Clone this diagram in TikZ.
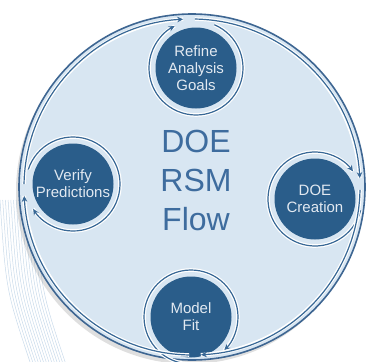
\documentclass[tikz,border=0pt]{standalone}
\usepackage{fontspec}
\setmainfont{Liberation Sans}
\usetikzlibrary{arrows.meta,shadows}
\definecolor{bigfill}{RGB}{216,230,242}
\definecolor{rimblue}{RGB}{62,102,146}
\definecolor{stageblue}{RGB}{42,93,138}
\definecolor{stagetext}{RGB}{226,233,241}
\definecolor{titleblue}{RGB}{62,108,158}
\definecolor{flowblue}{RGB}{56,104,150}
\definecolor{hatchblue}{RGB}{200,218,234}
\tikzset{
  stage/.style={circle,fill=stageblue,minimum size=81pt,inner sep=0pt,align=center,
    text=stagetext,font=\fontsize{15}{17}\selectfont},
  flow/.style={draw=flowblue,line width=1.2pt,-{Stealth[length=6pt,width=5.5pt]},
    preaction={draw=white,line width=3.6pt,-}},
  hatch/.style={draw=hatchblue,line width=0.5pt},
}
\begin{document}
\begin{tikzpicture}[x=1pt,y=-1pt]
\useasboundingbox (0,0) rectangle (373,362);
\coordinate (c) at (192,187);
\foreach \i in {0,...,13}
  \draw[hatch] (\i*2.7,200) .. controls (\i*2.7+6,290) .. (\i*2.7+30,362);
\filldraw[fill=bigfill,draw=rimblue,line width=1.6pt,
  drop shadow={shadow xshift=-3pt,shadow yshift=-4pt,opacity=0.25}] (c) circle[radius=173];

\node[stage] (goals) at (196,68) {Refine\\Analysis\\Goals};
\node[stage] (doe) at (315,199) {DOE\\Creation};
\node[stage] (fit) at (191,317) {Model\\Fit};
\node[stage] (verify) at (73,184) {Verify\\Predictions};
\node[text=titleblue,font=\fontsize{32}{39}\selectfont,align=center] (title) at (196,180) {DOE\\RSM\\Flow};

\draw[flow] (goals.center) ++(-67:47) arc[start angle=-67,end angle=243,radius=47];
\draw[flow] (doe.center) ++(-346:47) arc[start angle=-346,end angle=-36,radius=47];
\draw[flow] (fit.center) ++(-265:47) arc[start angle=-265,end angle=45,radius=47];
\draw[flow] (verify.center) ++(-162:47) arc[start angle=-162,end angle=148,radius=47];
\foreach \a in {0,90,180,270}
  \draw[flow] (c) ++(\a+1:168) arc[start angle=\a+1,end angle=\a+87,radius=168];
\end{tikzpicture}
\end{document}
